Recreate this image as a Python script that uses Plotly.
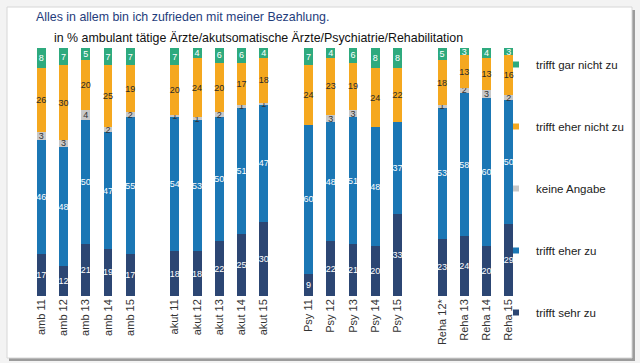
import plotly.graph_objects as go

categories = ["amb 11", "amb 12", "amb 13", "amb 14", "amb 15", " ",
              "akut 11", "akut 12", "akut 13", "akut 14", "akut 15", "  ",
              "Psy 11", "Psy 12", "Psy 13", "Psy 14", "Psy 15", "   ",
              "Reha 12*", "Reha 13", "Reha 14", "Reha 15"]

sehr_zu =      [17, 12, 21, 19, 17, None, 18, 18, 22, 25, 30, None, 9, 22, 21, 20, 33, None, 23, 24, 20, 29]
eher_zu =      [46, 48, 50, 47, 55, None, 54, 53, 50, 51, 47, None, 60, 48, 51, 48, 37, None, 53, 58, 60, 50]
keine_angabe = [3, 3, 4, 2, 2, None, 1, 1, 2, 1, 1, None, 0, 3, 3, 0, 0, None, 1, 2, 3, 2]
eher_nicht =   [26, 30, 20, 25, 19, None, 20, 24, 20, 17, 18, None, 24, 23, 19, 24, 22, None, 18, 13, 13, 16]
gar_nicht =    [8, 7, 5, 7, 7, None, 7, 4, 6, 6, 4, None, 7, 4, 6, 8, 8, None, 5, 3, 4, 3]

series = [
    ("trifft sehr zu", sehr_zu, "#2c4673", "white"),
    ("trifft eher zu", eher_zu, "#1b77b5", "white"),
    ("keine Angabe", keine_angabe, "#c8c8c8", "#333333"),
    ("trifft eher nicht zu", eher_nicht, "#f5a81f", "#2a2a2a"),
    ("trifft gar nicht zu", gar_nicht, "#2eaa7e", "white"),
]

FONT = "Liberation Sans, Arial, Helvetica, sans-serif"
FW, FH = 640, 363

def px(x): return x / FW
def py(y): return 1 - y / FH

fig = go.Figure()
for name, vals, color, tcolor in series:
    fig.add_trace(go.Bar(
        x=categories, y=vals, name=name, showlegend=False,
        marker=dict(color=color, line=dict(width=0)),
        text=[str(v) if v else "" for v in vals],
        textposition="inside", insidetextanchor="middle",
        textangle=0, constraintext="none",
        textfont=dict(color=tcolor, size=9, family=FONT),
        cliponaxis=False, hoverinfo="skip",
    ))

# legend entries (small square keys), top to bottom
for name, vals, color, tcolor in reversed(series):
    fig.add_trace(go.Scatter(
        x=[None], y=[None], mode="markers", name=name, legendgroup=name,
        marker=dict(symbol="square", size=6, color=color),
        showlegend=True, hoverinfo="skip",
    ))

fig.add_shape(type="rect", xref="paper", yref="paper", layer="below",
              x0=px(9), x1=px(635), y0=py(10), y1=py(361),
              fillcolor="#9c9c9c", line=dict(width=0))
fig.add_shape(type="rect", xref="paper", yref="paper", layer="below",
              x0=px(7), x1=px(632), y0=py(7), y1=py(358),
              fillcolor="white", line=dict(color="#d6d6d6", width=1))

fig.add_annotation(text="Alles in allem bin ich zufrieden mit meiner Bezahlung.",
                   xref="paper", yref="paper", x=px(34), y=py(17),
                   xanchor="left", yanchor="middle", showarrow=False,
                   font=dict(size=12.4, color="#1f3d7c", family=FONT))
fig.add_annotation(text="in % ambulant tätige Ärzte/akutsomatische Ärzte/Psychiatrie/Rehabilitation",
                   xref="paper", yref="paper", x=px(52), y=py(38),
                   xanchor="left", yanchor="middle", showarrow=False,
                   font=dict(size=12.4, color="#111111", family=FONT))

fig.update_layout(
    width=FW, height=FH,
    margin=dict(l=0, r=0, t=0, b=0, pad=0),
    barmode="stack", bargap=0.6,
    paper_bgcolor="#f3f3f3", plot_bgcolor="rgba(0,0,0,0)",
    font=dict(family=FONT, size=11, color="#333333"),
    showlegend=True,
    legend=dict(traceorder="grouped", tracegroupgap=43,
                x=px(496), xanchor="left", y=py(50), yanchor="top",
                font=dict(size=11.5, color="#222222", family=FONT),
                bgcolor="rgba(0,0,0,0)", itemwidth=30),
    xaxis=dict(type="category", categoryorder="array", categoryarray=categories,
               domain=[px(30), px(520)], automargin=False,
               range=[-0.5, len(categories) - 0.5], tickangle=-90,
               showgrid=False, showline=False, zeroline=False, ticks="",
               tickfont=dict(size=11, color="#333333", family=FONT), fixedrange=True),
    yaxis=dict(range=[0, 100], domain=[py(296), py(48)], automargin=False,
               visible=False, fixedrange=True),
)

fig.write_html("out.html", config={"displayModeBar": False},
               post_script="document.body.style.margin='0';document.body.style.background='#f3f3f3';")
